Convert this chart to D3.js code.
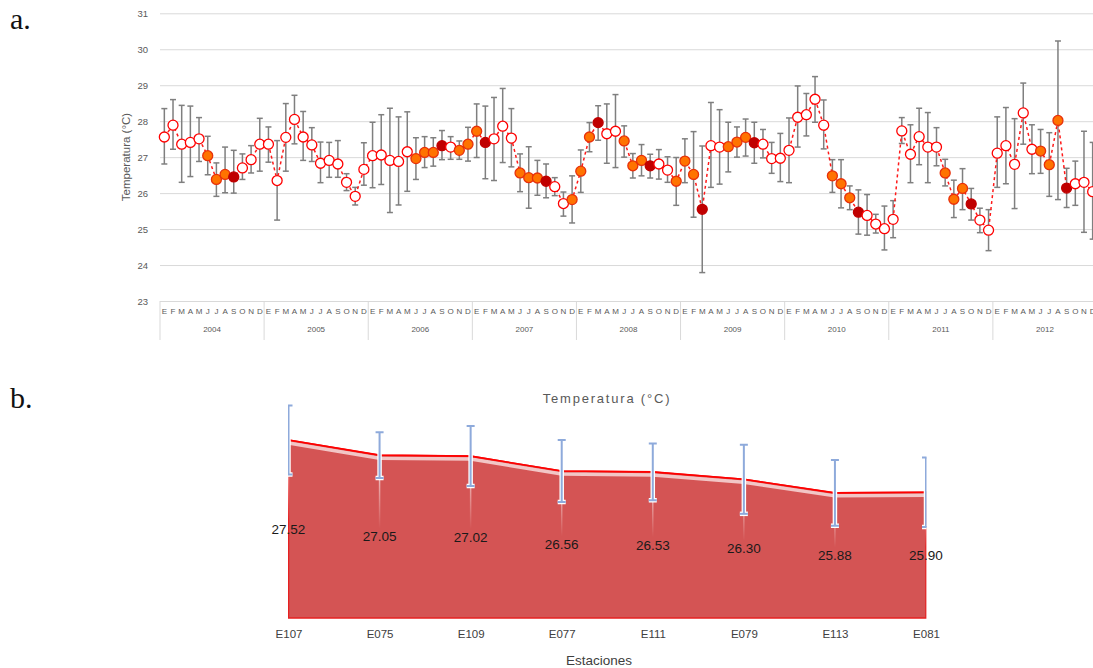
<!DOCTYPE html>
<html>
<head>
<meta charset="utf-8">
<script src="https://cdn.jsdelivr.net/npm/d3@7"></script>
<style>
body { margin: 0; background: #fff; }
svg { display: block; font-family: "Liberation Sans", Arial, sans-serif; }
</style>
</head>
<body>
<div id="chart"></div>
<script>
// a. monthly mean temperature with error bars, 2004-2012
const years = [2004, 2005, 2006, 2007, 2008, 2009, 2010, 2011, 2012];
const monthLetters = ["E", "F", "M", "A", "M", "J", "J", "A", "S", "O", "N", "D"];

const tempMean = [
    27.56, 27.89, 27.36, 27.41, 27.51, 27.04, 26.38, 26.52, 26.45, 26.70, 26.93, 27.36,
    27.36, 26.35, 27.55, 28.05, 27.56, 27.34, 26.83, 26.91, 26.81, 26.30, 25.91, 26.66,
    27.04, 27.06, 26.91, 26.88, 27.15, 26.96, 27.13, 27.13, 27.32, 27.28, 27.19, 27.36,
    27.72, 27.41, 27.51, 27.86, 27.53, 26.56, 26.43, 26.42, 26.33, 26.18, 25.71, 25.82,
    26.61, 27.56, 27.96, 27.65, 27.72, 27.45, 26.76, 26.91, 26.76, 26.81, 26.64, 26.33,
    26.89, 26.52, 25.55, 27.32, 27.28, 27.29, 27.42, 27.55, 27.40, 27.36, 26.96, 26.97,
    27.19, 28.11, 28.18, 28.61, 27.89, 26.48, 26.26, 25.87, 25.47, 25.38, 25.14, 25.01,
    25.27, 27.73, 27.08, 27.57, 27.28, 27.28, 26.56, 25.83, 26.13, 25.70, 25.25, 24.97,
    27.11, 27.32, 26.80, 28.23, 27.22, 27.17, 26.79, 28.02, 26.14, 26.26, 26.30, 26.04
];
const tempHigh = [
    28.35, 28.60, 28.44, 28.42, 28.10, 27.58, 26.84, 27.28, 27.19, 27.09, 27.32, 28.08,
    27.84, 27.46, 28.49, 28.72, 28.27, 27.82, 27.42, 27.41, 27.46, 26.54, 26.16, 27.40,
    27.97, 28.18, 28.36, 28.12, 28.26, 27.54, 27.57, 27.54, 27.74, 27.57, 27.45, 27.83,
    28.48, 28.42, 28.66, 28.91, 28.35, 27.09, 27.29, 26.91, 26.81, 26.43, 26.03, 26.48,
    27.20, 27.96, 28.43, 28.48, 28.74, 27.87, 27.10, 27.35, 27.08, 27.21, 27.01, 26.99,
    27.51, 27.71, 27.31, 28.52, 28.32, 27.97, 27.84, 28.06, 27.97, 27.77, 27.41, 27.66,
    28.09, 28.98, 28.77, 29.24, 28.59, 26.93, 26.93, 26.20, 26.09, 25.96, 25.41, 25.64,
    25.79, 28.10, 27.90, 28.36, 28.24, 27.82, 26.94, 26.36, 26.68, 26.13, 25.58, 25.54,
    28.12, 28.38, 28.07, 29.06, 27.90, 27.77, 27.68, 30.23, 26.69, 26.89, 27.72, 27.41
];
const tempLow = [
    26.81, 27.22, 26.30, 26.46, 26.88, 26.51, 25.91, 26.01, 26.00, 26.38, 26.56, 26.61,
    26.86, 25.25, 26.61, 27.37, 26.91, 26.88, 26.29, 26.44, 26.44, 26.07, 25.67, 26.22,
    26.15, 26.24, 25.46, 25.67, 26.05, 26.38, 26.71, 26.75, 26.93, 26.94, 26.94, 26.89,
    26.99, 26.40, 26.35, 26.85, 26.73, 26.04, 25.58, 25.94, 25.87, 25.93, 25.36, 25.17,
    26.02, 27.15, 27.47, 26.83, 26.71, 27.00, 26.42, 26.48, 26.42, 26.39, 26.30, 25.66,
    26.29, 25.33, 23.79, 26.16, 26.25, 26.59, 27.00, 27.03, 26.83, 26.98, 26.55, 26.32,
    26.29, 27.28, 27.59, 27.97, 27.23, 26.02, 25.59, 25.54, 24.86, 24.83, 24.89, 24.42,
    24.76, 27.38, 26.29, 26.79, 26.29, 26.76, 26.20, 25.32, 25.54, 25.25, 24.90, 24.40,
    26.16, 26.26, 25.57, 27.36, 26.54, 26.55, 25.91, 25.82, 25.60, 25.66, 24.91, 24.72
];
// o = open marker, n = orange marker, r = dark red marker
const monthClass = [
    "o","o","o","o","o","n","n","n","r","o","o","o",
    "o","o","o","o","o","o","o","o","o","o","o","o",
    "o","o","o","o","o","n","n","n","r","o","n","n",
    "n","r","o","o","o","n","n","n","r","o","o","n",
    "n","n","r","o","o","n","n","n","r","o","o","n",
    "n","n","r","o","o","n","n","n","r","o","o","o",
    "o","o","o","o","o","n","n","n","r","o","o","o",
    "o","o","o","o","o","o","n","n","n","r","o","o",
    "o","o","o","o","o","n","n","n","r","o","o","o"
];

// b. mean per station
const stations = ["E107", "E075", "E109", "E077", "E111", "E079", "E113", "E081"];
const stationMean = [27.52, 27.05, 27.02, 26.56, 26.53, 26.30, 25.88, 25.90];
const stationErr = [1.07, 0.71, 0.93, 0.96, 0.88, 1.07, 1.02, 1.08];

var svg = d3.select("#chart")
    .append("svg")
    .attr("width", 1093)
    .attr("height", 668);

svg.append("text").attr("x", 10).attr("y", 29).text("a.")
    .style("font-family", "'Liberation Serif', serif").style("font-size", "30px").attr("fill", "#111");
svg.append("text").attr("x", 10).attr("y", 408).text("b.")
    .style("font-family", "'Liberation Serif', serif").style("font-size", "30px").attr("fill", "#111");

// ---------- chart a ----------
var idx = d3.range(tempMean.length);
var x = d3.scaleBand().domain(idx).range([160, 1097]);
var xYear = d3.scaleBand().domain(years).range([160, 1097]);
var y = d3.scaleLinear().domain([23, 31]).range([301, 13.3]);
var cx = function(i) { return x(i) + x.bandwidth() / 2; };

var ga = svg.append("g");

var yAxis = ga.append("g")
    .attr("transform", "translate(160,0)")
    .call(d3.axisLeft(y).ticks(8).tickSize(-940).tickPadding(12));
yAxis.select(".domain").remove();
yAxis.selectAll("line").attr("stroke", "#d9d9d9");
yAxis.selectAll("text").attr("fill", "#595959").style("font-size", "9.5px");

ga.append("text")
    .attr("transform", "translate(130,157)rotate(-90)")
    .attr("text-anchor", "middle")
    .attr("fill", "#595959")
    .style("font-size", "11.5px")
    .text("Temperatura (°C)");

var mAxis = ga.append("g")
    .attr("transform", "translate(0,301)")
    .call(d3.axisBottom(x).tickSize(0).tickPadding(7)
        .tickFormat(function(i) { return monthLetters[i % 12]; }));
mAxis.select(".domain").remove();
mAxis.selectAll("text").attr("fill", "#595959").style("font-size", "8px");

var yrAxis = ga.append("g")
    .attr("transform", "translate(0,301)")
    .call(d3.axisBottom(xYear).tickSize(0).tickPadding(25));
yrAxis.select(".domain").remove();
yrAxis.selectAll("text").attr("fill", "#595959").style("font-size", "8px");

ga.selectAll(".sep")
    .data(years)
    .enter()
    .append("line")
    .attr("x1", function(d) { return xYear(d); })
    .attr("x2", function(d) { return xYear(d); })
    .attr("y1", 301).attr("y2", 340)
    .attr("stroke", "#d9d9d9");

// error bars
var eb = ga.append("g").attr("stroke", "#7f7f7f").attr("stroke-width", 1.5);
eb.selectAll(".v").data(idx).enter().append("line")
    .attr("x1", cx).attr("x2", cx)
    .attr("y1", function(i) { return y(tempHigh[i]); })
    .attr("y2", function(i) { return y(tempLow[i]); });
eb.selectAll(".hi").data(idx).enter().append("line")
    .attr("x1", function(i) { return cx(i) - 3; }).attr("x2", function(i) { return cx(i) + 3; })
    .attr("y1", function(i) { return y(tempHigh[i]); })
    .attr("y2", function(i) { return y(tempHigh[i]); });
eb.selectAll(".lo").data(idx).enter().append("line")
    .attr("x1", function(i) { return cx(i) - 3; }).attr("x2", function(i) { return cx(i) + 3; })
    .attr("y1", function(i) { return y(tempLow[i]); })
    .attr("y2", function(i) { return y(tempLow[i]); });

var line = d3.line()
    .x(cx)
    .y(function(i) { return y(tempMean[i]); });

ga.append("path")
    .datum(idx)
    .attr("d", line)
    .attr("fill", "none")
    .attr("stroke", "#ff1a1a")
    .attr("stroke-width", 1.5)
    .attr("stroke-dasharray", "3,3");

var fills = { o: "#ffffff", n: "#ff7300", r: "#c00000" };
var strokes = { o: "#ff0000", n: "#e8300a", r: "#c00000" };

ga.selectAll(".pt")
    .data(idx)
    .enter()
    .append("circle")
    .attr("cx", cx)
    .attr("cy", function(i) { return y(tempMean[i]); })
    .attr("r", 5)
    .attr("fill", function(i) { return fills[monthClass[i]]; })
    .attr("stroke", function(i) { return strokes[monthClass[i]]; })
    .attr("stroke-width", 1.3);

// ---------- chart b ----------
var xs = d3.scalePoint().domain(stations).range([288.5, 926]);
var ys = d3.scaleLinear().domain([22, 29]).range([618, 392.25]);
var sData = stations.map(function(s, i) { return { s: s, v: stationMean[i], e: stationErr[i] }; });

var defs = svg.append("defs");
defs.append("clipPath").attr("id", "clipB")
    .append("rect").attr("x", 288).attr("y", 380).attr("width", 638.5).attr("height", 240);
var grad = defs.append("linearGradient").attr("id", "leader")
    .attr("x1", 0).attr("y1", 0).attr("x2", 0).attr("y2", 1);
grad.append("stop").attr("offset", "0%").attr("stop-color", "#fff").attr("stop-opacity", 0.85);
grad.append("stop").attr("offset", "100%").attr("stop-color", "#fff").attr("stop-opacity", 0);

var gb = svg.append("g").attr("clip-path", "url(#clipB)");

var area = d3.area()
    .x(function(d) { return xs(d.s); })
    .y0(ys(22))
    .y1(function(d) { return ys(d.v); });
var topLine = d3.line()
    .x(function(d) { return xs(d.s); })
    .y(function(d) { return ys(d.v); });

gb.append("path").datum(sData).attr("d", area)
    .attr("fill", "#d45454").attr("stroke", "#e62020").attr("stroke-width", 1.5);
gb.append("path").datum(sData).attr("d", topLine)
    .attr("transform", "translate(0,3)")
    .attr("fill", "none").attr("stroke", "#f2c6c6").attr("stroke-width", 3.5);
gb.append("path").datum(sData).attr("d", topLine)
    .attr("fill", "none").attr("stroke", "#ff0000").attr("stroke-width", 1.6);

var labelY = function(d) { return (ys(d.v) + ys(22)) / 2; };

gb.selectAll(".leader")
    .data(sData)
    .enter()
    .append("rect")
    .attr("x", function(d) { return xs(d.s) - 0.75; })
    .attr("y", function(d) { return ys(d.v); })
    .attr("width", 1.5)
    .attr("height", function(d) { return labelY(d) - 8 - ys(d.v); })
    .attr("fill", "url(#leader)");

// error bars: white halo + blue
[["#ffffff", 4.5], ["#8eaadb", 2]].forEach(function(st) {
    var g = gb.append("g").attr("stroke", st[0]).attr("stroke-width", st[1]).attr("fill", "none");
    g.selectAll(".v").data(sData).enter().append("line")
        .attr("x1", function(d) { return xs(d.s); }).attr("x2", function(d) { return xs(d.s); })
        .attr("y1", function(d) { return ys(d.v + d.e); })
        .attr("y2", function(d) { return ys(d.v - d.e); });
    g.selectAll(".c1").data(sData).enter().append("line")
        .attr("x1", function(d) { return xs(d.s) - 4; }).attr("x2", function(d) { return xs(d.s) + 4; })
        .attr("y1", function(d) { return ys(d.v + d.e); })
        .attr("y2", function(d) { return ys(d.v + d.e); });
    g.selectAll(".c2").data(sData).enter().append("line")
        .attr("x1", function(d) { return xs(d.s) - 4; }).attr("x2", function(d) { return xs(d.s) + 4; })
        .attr("y1", function(d) { return ys(d.v - d.e); })
        .attr("y2", function(d) { return ys(d.v - d.e); });
});

svg.selectAll(".vlab")
    .data(sData)
    .enter()
    .append("text")
    .attr("x", function(d) { return xs(d.s); })
    .attr("y", labelY)
    .attr("dy", "0.35em")
    .attr("text-anchor", "middle")
    .attr("fill", "#1a1a1a")
    .style("font-size", "13.5px")
    .text(function(d) { return d.v.toFixed(2); });

var sAxis = svg.append("g")
    .attr("transform", "translate(0,618)")
    .call(d3.axisBottom(xs).tickSize(0).tickPadding(12));
sAxis.select(".domain").remove();
sAxis.selectAll("text").attr("fill", "#404040").style("font-size", "11.5px");

svg.append("text")
    .attr("x", 599).attr("y", 665)
    .attr("text-anchor", "middle")
    .attr("fill", "#404040")
    .style("font-size", "13.5px")
    .text("Estaciones");

svg.append("text")
    .attr("x", 607).attr("y", 403)
    .attr("text-anchor", "middle")
    .attr("fill", "#595959")
    .style("font-size", "13px")
    .style("letter-spacing", "1.8px")
    .text("Temperatura (°C)");
</script>
</body>
</html>
